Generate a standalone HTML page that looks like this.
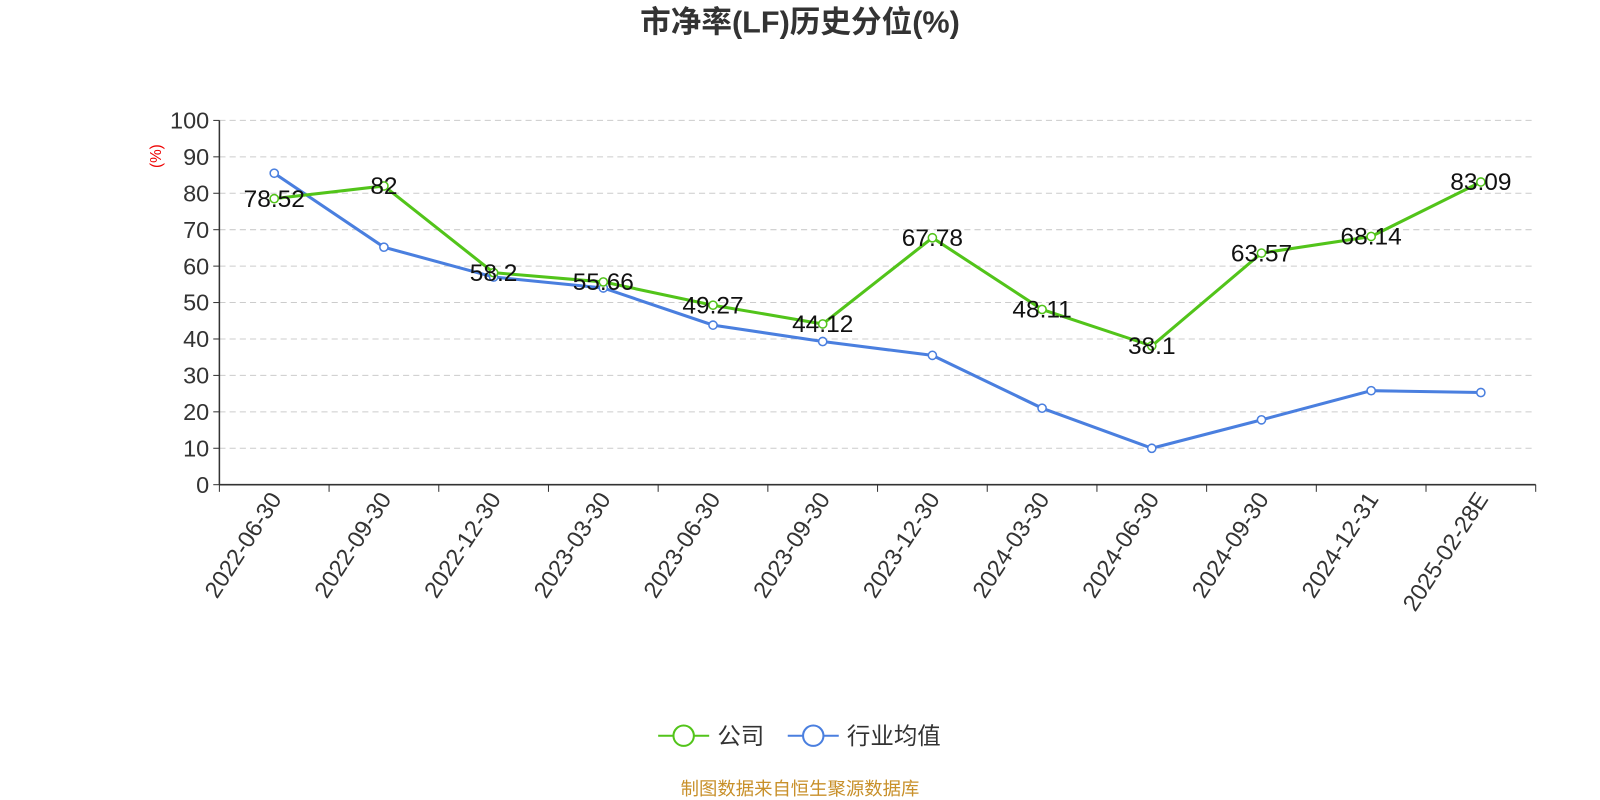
<!DOCTYPE html>
<html><head><meta charset="utf-8"><style>
body{margin:0;background:#fff;}
svg{display:block;font-family:"Liberation Sans","Noto Sans CJK SC",sans-serif;}
</style></head><body>
<svg id="c" width="1600" height="800">
<g transform="scale(1.0204)">
<text x="784" y="32" text-anchor="middle" font-size="30" font-weight="bold" fill="#333">市净率(LF)历史分位(%)</text>
<text transform="translate(158,153) rotate(-90)" text-anchor="middle" font-size="15" fill="#e00">(%)</text>
<g id="grid"></g><g id="axes"></g><g id="lines"></g><g id="labels"></g>
<g>
<g>
<line x1="645" y1="721" x2="695" y2="721" stroke="#52c41a" stroke-width="2"/>
<circle cx="670" cy="721" r="10" fill="#fff" stroke="#52c41a" stroke-width="2"/>
<text x="703" y="729" font-size="23" fill="#333">公司</text></g>
<g>
<line x1="772" y1="721" x2="822" y2="721" stroke="#4a7fdf" stroke-width="2"/>
<circle cx="797" cy="721" r="10" fill="#fff" stroke="#4a7fdf" stroke-width="2"/>
<text x="830" y="729" font-size="23" fill="#333">行业均值</text></g>
</g>
<text x="784" y="779" text-anchor="middle" font-size="18" fill="#c8902a">制图数据来自恒生聚源数据库</text>
</g>
</svg>
<script>
const categories=["2022-06-30","2022-09-30","2022-12-30","2023-03-30","2023-06-30","2023-09-30","2023-12-30","2024-03-30","2024-06-30","2024-09-30","2024-12-31","2025-02-28E"];
const companyValues=[78.52,82,58.2,55.66,49.27,44.12,67.78,48.11,38.1,63.57,68.14,83.09];
const industryValues=[85.5,65.2,57,54,43.8,39.3,35.5,21,10,17.8,25.8,25.3];
const yTicks=[0,10,20,30,40,50,60,70,80,90,100];
const NS="http://www.w3.org/2000/svg";
const X0=215,X1=1505,Y0=475,Y1=118;
const bw=(X1-X0)/categories.length;
const xs=i=>X0+bw*(i+0.5);
const ys=v=>Y0-(v/100)*(Y0-Y1);
function mk(t,a,p){const e=document.createElementNS(NS,t);for(const k in a)e.setAttribute(k,a[k]);p.appendChild(e);return e;}
const grid=document.getElementById('grid'),axes=document.getElementById('axes'),lines=document.getElementById('lines'),labels=document.getElementById('labels');
yTicks.forEach(v=>{
 if(v>0){const g=mk('line',{x1:X0,x2:X1,y1:ys(v),y2:ys(v),stroke:'#ccc','stroke-dasharray':'6,4'},grid);
 
 }
 mk('line',{x1:X0-6,x2:X0,y1:ys(v),y2:ys(v),stroke:'#333'},axes);
 const t=mk('text',{x:X0-10,y:ys(v)+8,'text-anchor':'end','font-size':23,fill:'#333'},axes);t.textContent=v;
 
 
});
mk('line',{x1:X0,x2:X0,y1:Y1,y2:Y0,stroke:'#333','stroke-width':1.5},axes);
mk('line',{x1:X0,x2:X1,y1:Y0,y2:Y0,stroke:'#333','stroke-width':1.5},axes);
for(let i=0;i<=categories.length;i++)mk('line',{x1:X0+bw*i,x2:X0+bw*i,y1:Y0,y2:Y0+7,stroke:'#333'},axes);
categories.forEach((c,i)=>{
 const t=mk('text',{transform:`translate(${xs(i)+8},${Y0+14}) rotate(-57)`,'text-anchor':'end','font-size':23,fill:'#333'},axes);t.textContent=c;
 
 
});
function series(vals,color,name,lab){
 const p=mk('polyline',{points:vals.map((v,i)=>xs(i)+','+ys(v)).join(' '),fill:'none',stroke:color,'stroke-width':3},lines);
 
 
 vals.forEach((v,i)=>{
  const c=mk('circle',{cx:xs(i),cy:ys(v),r:4,fill:'#fff',stroke:color,'stroke-width':1.5},lines);
  
  
  if(lab){const t=mk('text',{x:xs(i),y:ys(v)+8,'text-anchor':'middle','font-size':24,fill:'#111'},labels);t.textContent=v;
  
  }
 });
}
series(industryValues,'#4a7fdf','industry',false);
series(companyValues,'#52c41a','company',true);
</script>
</body></html>
